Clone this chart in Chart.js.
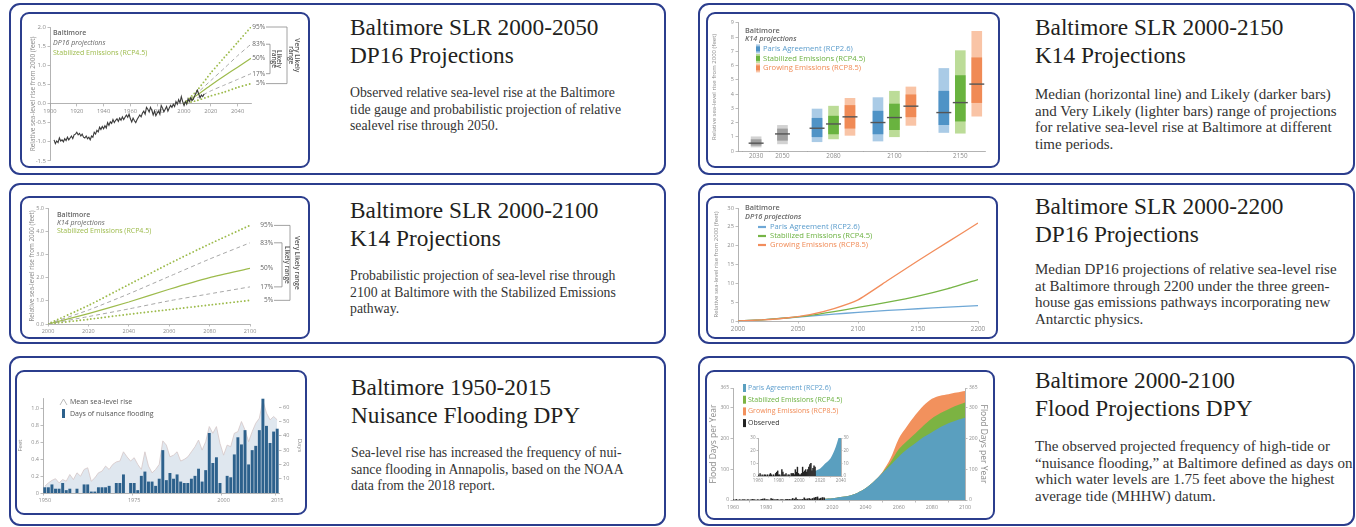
<!DOCTYPE html>
<html>
<head>
<meta charset="utf-8">
<title>Baltimore sea-level rise</title>
<script src="https://cdn.jsdelivr.net/npm/chart.js@4.4.1/dist/chart.umd.min.js"></script>
<style>
  body { margin: 0; width: 1356px; height: 527px; overflow: hidden; background: #fff; position: relative; }
  .card, .thumb { position: absolute; box-sizing: border-box; border: 2px solid #2b3d8d; }
  .card { border-radius: 11px; }
  .thumb { border-radius: 9px; overflow: hidden; background: #fff; }
  .thumb canvas { display: block; }
  .title, .body { position: absolute; font-family: "Liberation Serif", "Times New Roman", serif; white-space: nowrap; }
  .title { font-size: 23.3px; line-height: 28px; color: #231f20; }
  .body { font-size: 13.75px; line-height: 16.7px; color: #333; }
  .body.wide { font-size: 15px; }
  #floodInset { position: absolute; left: 39px; top: 60px; background: #fff; }
</style>
</head>
<body>

<!-- left column -->
<div class="card" style="left:9px;top:3px;width:657px;height:172px"></div>
<div class="thumb" style="left:20px;top:12px;width:290px;height:156px"><canvas id="dp16Chart" width="286" height="152"></canvas></div>
<div class="title" style="left:350px;top:13px">Baltimore SLR 2000-2050<br>DP16 Projections</div>
<div class="body" style="left:350px;top:85px">Observed relative sea-level rise at the Baltimore<br>tide gauge and probabilistic projection of relative<br>sealevel rise through 2050.</div>

<div class="card" style="left:9px;top:183px;width:657px;height:161px"></div>
<div class="thumb" style="left:20px;top:196px;width:290px;height:143px"><canvas id="k14Chart" width="286" height="139"></canvas></div>
<div class="title" style="left:350px;top:196px">Baltimore SLR 2000-2100<br>K14 Projections</div>
<div class="body" style="left:350px;top:268px">Probabilistic projection of sea-level rise through<br>2100 at Baltimore with the Stabilized Emissions<br>pathway.</div>

<div class="card" style="left:9px;top:356px;width:657px;height:170px"></div>
<div class="thumb" style="left:15px;top:370px;width:292px;height:145px"><canvas id="nuisanceChart" width="288" height="141"></canvas></div>
<div class="title" style="left:351px;top:373px">Baltimore 1950-2015<br>Nuisance Flooding DPY</div>
<div class="body" style="left:351px;top:445px">Sea-level rise has increased the frequency of nui-<br>sance flooding in Annapolis, based on the NOAA<br>data from the 2018 report.</div>

<!-- right column -->
<div class="card" style="left:698px;top:3px;width:657px;height:172px"></div>
<div class="thumb" style="left:706px;top:12px;width:294px;height:156px"><canvas id="k14BarChart" width="290" height="152"></canvas></div>
<div class="title" style="left:1035px;top:13px">Baltimore SLR 2000-2150<br>K14 Projections</div>
<div class="body wide" style="left:1035px;top:86px">Median (horizontal line) and Likely (darker bars)<br>and Very Likely (lighter bars) range of projections<br>for relative sea-level rise at Baltimore at different<br>time periods.</div>

<div class="card" style="left:698px;top:183px;width:657px;height:161px"></div>
<div class="thumb" style="left:706px;top:196px;width:292px;height:143px"><canvas id="dp16LongChart" width="288" height="139"></canvas></div>
<div class="title" style="left:1035px;top:192px">Baltimore SLR 2000-2200<br>DP16 Projections</div>
<div class="body wide" style="left:1035px;top:261px">Median DP16 projections of relative sea-level rise<br>at Baltimore through 2200 under the three green-<br>house gas emissions pathways incorporating new<br>Antarctic physics.</div>

<div class="card" style="left:698px;top:356px;width:657px;height:170px"></div>
<div class="thumb" style="left:705px;top:370px;width:290px;height:150px">
  <canvas id="floodChart" width="286" height="146"></canvas>
  <canvas id="floodInset" width="104" height="56"></canvas>
</div>
<div class="title" style="left:1035px;top:366px">Baltimore 2000-2100<br>Flood Projections DPY</div>
<div class="body wide" style="left:1035px;top:438px">The observed projected frequency of high-tide or<br>“nuisance flooding,” at Baltimore defined as days on<br>which water levels are 1.75 feet above the highest<br>average tide (MHHW) datum.</div>

<script>
// ---------- Data ----------

// DP16 2000-2050 (observed tide gauge + percentiles)
const observedStartYear = 1903;
const observedSLR = [
  -0.95, -1.05, -0.98, -1.02, -0.9, -0.98, -0.95,
  -1.0, -0.92, -0.97, -0.88, -0.95, -0.9, -0.85, -0.92, -0.82, -0.8,
  -0.75, -0.82, -0.78, -0.85, -0.8, -0.88, -0.9, -0.85, -0.92, -0.88,
  -0.95, -0.85, -0.88, -0.75, -0.8, -0.7, -0.74, -0.62, -0.68, -0.6,
  -0.66, -0.58, -0.64, -0.5, -0.57, -0.48, -0.52, -0.42, -0.5, -0.44,
  -0.4, -0.47, -0.38, -0.44, -0.35, -0.42, -0.36, -0.3, -0.36, -0.28,
  -0.4, -0.48, -0.38, -0.45, -0.5, -0.42, -0.36, -0.3, -0.35, -0.25,
  -0.2, -0.28, -0.1, -0.15, -0.22, -0.1, -0.18, -0.3, -0.2, -0.32,
  -0.25, -0.2, -0.28, -0.05, -0.12, -0.22, -0.15, -0.08, -0.2, -0.12,
  -0.05, -0.1, -0.02, -0.08, 0.05, -0.02, 0.1, 0.02, 0.18, 0.05,
  -0.05, 0.05, -0.02, 0.12, 0.05, 0.15, 0.08, 0.12, 0.2, 0.28,
  0.35, 0.25, 0.15, 0.22, 0.18, 0.25
];
const dp16Years = [2000, 2010, 2020, 2030, 2040, 2050];
const dp16P95 = [0, 0.35, 0.8, 1.2, 1.6, 2.0];
const dp16P83 = [0, 0.28, 0.6, 0.92, 1.25, 1.55];
const dp16P50 = [0, 0.23, 0.48, 0.72, 0.95, 1.18];
const dp16P17 = [0, 0.15, 0.33, 0.48, 0.63, 0.78];
const dp16P5 = [0, 0.08, 0.2, 0.3, 0.42, 0.52];
const dp16XTicks = [1900, 1920, 1940, 1960, 1980, 2000, 2020, 2040];
const dp16YTicks = [-1.5, -1.0, -0.5, 0, 0.5, 1.0, 1.5, 2.0];
const pctLabels = ['95%', '83%', '50%', '17%', '5%'];

// K14 2000-2100 (Stabilized Emissions)
const k14Years = [2000, 2020, 2040, 2060, 2080, 2100];
const k14P95 = [0, 0.8, 1.7, 2.6, 3.45, 4.25];
const k14P83 = [0, 0.6, 1.3, 2.05, 2.8, 3.5];
const k14P50 = [0, 0.45, 0.95, 1.5, 2.0, 2.4];
const k14P17 = [0, 0.32, 0.65, 1.0, 1.3, 1.6];
const k14P5 = [0, 0.2, 0.42, 0.62, 0.82, 1.02];
const k14XTicks = [2000, 2020, 2040, 2060, 2080, 2100];
const k14YTicks = [0, 1, 2, 3, 4, 5];

// Nuisance flooding 1950-2015
const nuisanceStartYear = 1950;
const nuisanceDays = [
  4, 4, 6, 3, 3, 7, 2, 3, 0, 3,
  0, 6, 6, 1, 1, 4, 4, 4, 5, 0,
  7, 7, 13, 0, 7, 7, 2, 12, 15, 8,
  8, 5, 10, 30, 9, 14, 10, 13, 8, 7,
  7, 10, 12, 17, 8, 16, 42, 21, 25, 7,
  0, 12, 11, 27, 39, 34, 44, 20, 30, 33,
  44, 66, 47, 35, 43, 45
];
const meanSeaLevel = [
  0.08, 0.12, 0.15, 0.17, 0.12, 0.16, 0.14, 0.22, 0.16, 0.24,
  0.2, 0.28, 0.3, 0.14, 0.18, 0.24, 0.26, 0.32, 0.28, 0.34,
  0.37, 0.38, 0.49, 0.43, 0.38, 0.42, 0.34, 0.28, 0.49, 0.32,
  0.24, 0.28, 0.34, 0.62, 0.57, 0.43, 0.45, 0.49, 0.38, 0.4,
  0.43, 0.49, 0.55, 0.63, 0.51, 0.61, 0.79, 0.71, 0.79, 0.59,
  0.45, 0.57, 0.55, 0.71, 0.73, 0.85, 0.75, 0.61, 0.73, 0.83,
  0.89, 1.1, 0.95, 0.87, 0.91, 0.87
];
const nuisanceTickYears = [1950, 1975, 2000, 2015];
const feetTicks = [0, 0.2, 0.4, 0.6, 0.8, 1.0];
const dayTicks = [10, 20, 30, 40, 50, 60];

// K14 ranges by period
const k14Periods = ['2030', '2050', '2080', '2100', '2150'];
const nearMedian = [0.55, 1.2];                 // 2030, 2050 (all scenarios)
const nearLikely = [[0.4, 0.8], [0.75, 1.55]];
const nearVeryLikely = [[0.28, 1.0], [0.5, 1.8]];
const parisMedian = [1.6, 2.0, 2.7];             // 2080, 2100, 2150
const parisLikely = [[1.0, 2.3], [1.2, 2.8], [1.85, 4.2]];
const parisVeryLikely = [[0.65, 2.95], [0.7, 3.75], [1.3, 5.8]];
const stabilizedMedian = [1.9, 2.35, 3.4];
const stabilizedLikely = [[1.2, 2.45], [1.5, 3.3], [2.1, 5.3]];
const stabilizedVeryLikely = [[0.85, 3.15], [1.0, 4.2], [1.25, 7.05]];
const growingMedian = [2.4, 3.15, 4.7];
const growingLikely = [[1.6, 3.2], [2.4, 3.95], [3.4, 6.55]];
const growingVeryLikely = [[1.1, 3.7], [1.8, 4.5], [2.45, 8.4]];
const k14BarYTicks = [0, 1, 2, 3, 4, 5, 6, 7, 8, 9];

// DP16 2000-2200 medians
const dp16LongYears = [2000, 2020, 2040, 2060, 2080, 2100, 2125, 2150, 2175, 2200];
const dp16Paris = [0, 0.3, 0.8, 1.3, 1.8, 2.3, 2.8, 3.25, 3.7, 4.1];
const dp16Stabilized = [0, 0.3, 0.8, 1.5, 2.5, 3.6, 5.0, 6.6, 8.6, 11.0];
const dp16Growing = [0, 0.3, 0.8, 1.7, 3.3, 5.6, 10.8, 16.0, 21.0, 26.0];
const dp16LongXTicks = [2000, 2050, 2100, 2150, 2200];
const dp16LongYTicks = [0, 5, 10, 15, 20, 25, 30];

// Flood days per year
const floodYears = [2015, 2020, 2025, 2030, 2035, 2040, 2045, 2050, 2055, 2060, 2065, 2070, 2075, 2080, 2085, 2090, 2095, 2100];
const floodParis = [4, 6, 10, 14, 23, 38, 60, 87, 113, 141, 165, 185, 205, 221, 237, 250, 260, 268];
const floodStabilized = [4, 6, 10, 14, 23, 38, 60, 88, 122, 165, 192, 217, 243, 266, 283, 296, 308, 318];
const floodGrowing = [4, 6, 10, 14, 23, 38, 60, 90, 135, 200, 240, 277, 308, 330, 340, 345, 350, 355];
const observedFloodStart = 1960;
const observedFloodDays = [
  1, 0, 2, 0, 1, 0, 1, 1, 0, 1,
  0, 1, 2, 1, 0, 1, 0, 2, 3, 4,
  1, 1, 0, 5, 3, 1, 1, 2, 0, 1,
  1, 0, 2, 2, 2, 1, 5, 3, 7, 2,
  1, 1, 2, 7, 3, 4, 5, 3, 5, 7,
  9, 10, 4, 6, 8, 7
];
const floodXTicks = [1960, 1980, 2000, 2020, 2040, 2060, 2080, 2100];
const floodYTicks = [0, 100, 200, 300, 365];
const insetXTicks = [1960, 1980, 2000, 2020, 2040];
const insetYTicks = [0, 10, 20, 30];

// ---------- Styles / helpers ----------
Chart.defaults.font.family = '"Open Sans", sans-serif';
Chart.defaults.color = '#8c8c8c';
Chart.defaults.animation = false;
Chart.defaults.responsive = false;
Chart.defaults.plugins.legend.display = false;
Chart.defaults.plugins.tooltip.enabled = false;
Chart.defaults.elements.point.radius = 0;

const GREEN = '#9dbb4c';
const GREY_TXT = '#666';
const PARIS = '#5a9ccc', STAB = '#6bb140', GROW = '#f08a55';

const xy = (xs, ys) => xs.map((x, i) => ({ x, y: ys[i] }));
const series = (start, ys) => ys.map((y, i) => ({ x: start + i, y }));
const fixedTicks = values => s => { s.ticks = values.map(v => ({ value: v })); };
const yTitle = (text, size, pad) => ({ display: true, text, font: { size }, color: '#8a8a8a', padding: { top: pad, bottom: 0 } });

function axis(extra) {
  const base = {
    grid: { drawOnChartArea: false, tickLength: 2.5, color: '#a0a0a0', lineWidth: 0.7 },
    border: { color: '#a0a0a0', width: 0.8 },
    ticks: { font: { size: 6 }, color: '#8c8c8c', padding: 1.5, maxRotation: 0, autoSkip: false }
  };
  for (const k in extra) {
    const v = extra[k];
    base[k] = (v && typeof v === 'object' && !Array.isArray(v) && base[k]) ? { ...base[k], ...v } : v;
  }
  return base;
}

function txt(ctx, s, x, y, o = {}) {
  ctx.save();
  ctx.font = `${o.style || 'normal'} ${o.weight || 400} ${o.size || 7}px "Open Sans", sans-serif`;
  ctx.fillStyle = o.color || GREY_TXT;
  ctx.textAlign = o.align || 'left';
  ctx.textBaseline = 'middle';
  if (o.rotate) {
    ctx.translate(x, y);
    ctx.rotate(o.rotate);
    ctx.fillText(s, 0, 0);
  } else {
    ctx.fillText(s, x, y);
  }
  ctx.restore();
}

function pctLines(years, sets) {
  const dotted = { borderColor: GREEN, borderDash: [0, 3.6], borderCapStyle: 'round', borderWidth: 1.9 };
  const dashed = { borderColor: '#a8a8a8', borderDash: [4, 3], borderWidth: 1 };
  const styles = [dotted, dashed, { borderColor: GREEN, borderWidth: 1.2 }, dashed, dotted];
  return sets.map((ys, i) => ({ data: xy(years, ys), pointRadius: 0, tension: 0.2, ...styles[i] }));
}

// percentile labels + Likely / Very Likely brackets
function rangeLabelPlugin(o) {
  return {
    id: 'rangeLabels',
    afterDatasetsDraw(chart) {
      const ctx = chart.ctx, a = chart.chartArea;
      o.legend.forEach((l, k) => txt(ctx, l.text, a.left + o.legendX, a.top + o.legendY + k * o.legendStep, l));
      const ends = [1, 2, 3, 4, 5].map(i => { const d = chart.getDatasetMeta(i).data; return d[d.length - 1]; });
      const lx = ends[0].x + o.labelGap;
      ends.forEach((p, k) => txt(ctx, pctLabels[k], lx, p.y, { align: 'right', size: o.size, color: '#666' }));
      const b1 = lx + o.b1, b2 = lx + o.b2;
      ctx.save();
      ctx.strokeStyle = '#8a8a8a';
      ctx.lineWidth = 0.8;
      ctx.beginPath();
      ctx.moveTo(lx + 1, ends[1].y); ctx.lineTo(b1, ends[1].y); ctx.lineTo(b1, ends[3].y); ctx.lineTo(lx + 1, ends[3].y);
      ctx.moveTo(lx + 1, ends[0].y); ctx.lineTo(b2, ends[0].y); ctx.lineTo(b2, ends[4].y); ctx.lineTo(lx + 1, ends[4].y);
      ctx.stroke();
      ctx.restore();
      const m1 = (ends[1].y + ends[3].y) / 2, m2 = (ends[0].y + ends[4].y) / 2;
      const rot = { rotate: Math.PI / 2, align: 'center', size: o.size, weight: 600, color: '#555' };
      o.likely.forEach((s, k) => txt(ctx, s, lx + o.t1[k], m1, rot));
      o.veryLikely.forEach((s, k) => txt(ctx, s, lx + o.t2[k], m2, rot));
    }
  };
}

// ---------- DP16 2000-2050 Chart Start ----------
new Chart(document.getElementById('dp16Chart'), {
  type: 'line',
  data: {
    datasets: [
      { data: series(observedStartYear, observedSLR), borderColor: '#3a3a3a', borderWidth: 1.1, tension: 0 },
      ...pctLines(dp16Years, [dp16P95, dp16P83, dp16P50, dp16P17, dp16P5])
    ]
  },
  options: {
    layout: { padding: { top: 13, right: 57, bottom: 4, left: 0 } },
    scales: {
      x: axis({ type: 'linear', min: 1900, max: 2050, position: { y: 0 }, afterBuildTicks: fixedTicks(dp16XTicks),
        ticks: { callback: v => String(v), font: { size: 5.8 } } }),
      y: axis({ min: -1.5, max: 2.0, afterBuildTicks: fixedTicks(dp16YTicks), afterFit: s => { s.width = 28; },
        ticks: { callback: v => v.toFixed(1) }, title: yTitle('Relative sea-level rise from 2000 (feet)', 6.5, 7) })
    }
  },
  plugins: [rangeLabelPlugin({
    legend: [
      { text: 'Baltimore', weight: 600, color: '#666' },
      { text: 'DP16 projections', style: 'italic', color: '#666' },
      { text: 'Stabilized Emissions (RCP4.5)', color: GREEN }
    ],
    legendX: 3, legendY: 6, legendStep: 10, size: 6.5,
    labelGap: 14, b1: 5, b2: 22,
    likely: ['Likely', 'range'], t1: [13.5, 8.5],
    veryLikely: ['Very Likely', 'range'], t2: [32, 26]
  })]
});
// ---------- DP16 2000-2050 Chart End ----------

// ---------- K14 2000-2100 Chart Start ----------
new Chart(document.getElementById('k14Chart'), {
  type: 'line',
  data: {
    datasets: [
      { data: [], borderWidth: 0 },
      ...pctLines(k14Years, [k14P95, k14P83, k14P50, k14P17, k14P5])
    ]
  },
  options: {
    layout: { padding: { top: 10, right: 58, bottom: 0, left: 0 } },
    scales: {
      x: axis({ type: 'linear', min: 2000, max: 2100, afterBuildTicks: fixedTicks(k14XTicks), afterFit: s => { s.height = 13; },
        ticks: { callback: v => String(v), font: { size: 5.5 } } }),
      y: axis({ min: 0, max: 5, afterBuildTicks: fixedTicks(k14YTicks), afterFit: s => { s.width = 26; },
        ticks: { callback: v => v.toFixed(1), font: { size: 5.5 } }, title: yTitle('Relative sea-level rise from 2000 (feet)', 6.3, 6) })
    }
  },
  plugins: [rangeLabelPlugin({
    legend: [
      { text: 'Baltimore', weight: 600, color: '#666' },
      { text: 'K14 projections', style: 'italic', color: '#666' },
      { text: 'Stabilized Emissions (RCP4.5)', color: GREEN }
    ],
    legendX: 9, legendY: 7, legendStep: 8, size: 6.5,
    labelGap: 23, b1: 9, b2: 17,
    likely: ['Likely range'], t1: [14],
    veryLikely: ['Very Likely range'], t2: [24]
  })]
});
// ---------- K14 2000-2100 Chart End ----------

// ---------- Nuisance Flooding Chart Start ----------
const nuisanceYears = nuisanceDays.map((_, i) => nuisanceStartYear + i);
new Chart(document.getElementById('nuisanceChart'), {
  type: 'bar',
  data: {
    labels: nuisanceYears.map(String),
    datasets: [
      { type: 'bar', label: 'Days of nuisance flooding', data: nuisanceDays, yAxisID: 'yDays',
        backgroundColor: '#2d618c', barPercentage: 0.82, categoryPercentage: 1, order: 1 },
      { type: 'line', label: 'Mean sea-level rise', data: meanSeaLevel, yAxisID: 'yFeet',
        fill: 'origin', backgroundColor: '#dfe7ef', borderColor: '#d6c6c6', borderWidth: 0.8, tension: 0, order: 2 }
    ]
  },
  options: {
    layout: { padding: { top: 26, right: 0, bottom: 0, left: 0 } },
    scales: {
      x: axis({ type: 'category', offset: true, afterFit: s => { s.height = 20; },
        grid: { tickColor: c => nuisanceTickYears.includes(nuisanceYears[c.index]) ? '#a0a0a0' : 'rgba(0,0,0,0)' },
        ticks: { font: { size: 5.5 }, callback: (v, i) => nuisanceTickYears.includes(nuisanceYears[i]) ? String(nuisanceYears[i]) : '' } }),
      yFeet: axis({ position: 'left', min: 0, max: 1.13, afterBuildTicks: fixedTicks(feetTicks), afterFit: s => { s.width = 26; },
        ticks: { font: { size: 5.5 }, callback: v => v === 0 ? '0' : v.toFixed(1) }, title: yTitle('Feet', 6, 0) }),
      yDays: axis({ position: 'right', min: 0, max: 66.5, afterBuildTicks: fixedTicks(dayTicks), afterFit: s => { s.width = 26; },
        border: { display: false }, ticks: { font: { size: 5.5 } }, title: yTitle('Days', 6, 2) })
    }
  },
  plugins: [{
    id: 'nuisanceLegend',
    afterDatasetsDraw(chart) {
      const ctx = chart.ctx, a = chart.chartArea;
      const x = a.left + 17, y = a.top + 4;
      ctx.save();
      ctx.strokeStyle = '#a8a8a8'; ctx.lineWidth = 0.8;
      ctx.beginPath(); ctx.moveTo(x, y + 3); ctx.lineTo(x + 3.5, y - 3); ctx.lineTo(x + 7, y + 3); ctx.stroke();
      ctx.fillStyle = '#2d618c';
      ctx.fillRect(x + 2, a.top + 11, 3, 9);
      ctx.restore();
      txt(ctx, 'Mean sea-level rise', a.left + 27, y, { size: 7, color: '#555' });
      txt(ctx, 'Days of nuisance flooding', a.left + 27, a.top + 16, { size: 7, color: '#555' });
    }
  }]
});
// ---------- Nuisance Flooding Chart End ----------

// ---------- K14 2000-2150 Bar Chart Start ----------
// group centres along the (hidden) x axis and spacing between scenario bars
const k14Slots = [1.1, 2.7, 5.8, 9.5, 13.5];
const k14Spread = 1.0;
const k14Sets = [];
function k14Group(slots, veryLikely, likely, median, light, dark) {
  const bar = { type: 'bar', barThickness: 10, grouped: false };
  k14Sets.push({ ...bar, data: slots.map((x, i) => ({ x, y: veryLikely[i] })), backgroundColor: light, order: 3 });
  k14Sets.push({ ...bar, data: slots.map((x, i) => ({ x, y: likely[i] })), backgroundColor: dark, order: 2 });
  k14Sets.push({ type: 'scatter', data: slots.map((x, i) => ({ x, y: median[i] })), pointStyle: 'line',
    pointRadius: 7.5, pointBorderWidth: 1.4, pointBorderColor: '#555', order: 1 });
}
const farSlots = s => k14Slots.slice(2).map(c => c + s * k14Spread);
k14Group(k14Slots.slice(0, 2), nearVeryLikely, nearLikely, nearMedian, '#d2d2d2', '#9e9e9e');
k14Group(farSlots(-1), parisVeryLikely, parisLikely, parisMedian, '#aacbe6', '#4f93c6');
k14Group(farSlots(0), stabilizedVeryLikely, stabilizedLikely, stabilizedMedian, '#bcdc98', '#69b33f');
k14Group(farSlots(1), growingVeryLikely, growingLikely, growingMedian, '#f9c4a6', '#f08a55');

new Chart(document.getElementById('k14BarChart'), {
  type: 'bar',
  data: { datasets: k14Sets },
  options: {
    layout: { padding: { top: 8, right: 13, bottom: 0, left: 0 } },
    scales: {
      x: axis({ type: 'linear', min: 0, max: 15, offset: false, afterBuildTicks: fixedTicks(k14Slots), afterFit: s => { s.height = 15; },
        grid: { tickLength: 0 }, ticks: { font: { size: 6.3 }, callback: (v, i) => k14Periods[i] } }),
      y: axis({ min: 0, max: 9, afterBuildTicks: fixedTicks(k14BarYTicks), afterFit: s => { s.width = 30; },
        ticks: { font: { size: 5.5 } }, title: yTitle('Relative sea-level rise from 2000 (feet)', 6, 2.2) })
    }
  },
  plugins: [{
    id: 'k14Legend',
    afterDatasetsDraw(chart) {
      const ctx = chart.ctx, a = chart.chartArea;
      txt(ctx, 'Baltimore', a.left + 7, a.top + 8, { weight: 600, color: '#666', size: 7.3 });
      txt(ctx, 'K14 projections', a.left + 7, a.top + 16.5, { style: 'italic', weight: 600, color: '#666', size: 7.3 });
      [['Paris Agreement (RCP2.6)', '#aacbe6', '#4f93c6', PARIS],
       ['Stabilized Emissions (RCP4.5)', '#bcdc98', '#69b33f', STAB],
       ['Growing Emissions (RCP8.5)', '#f9c4a6', '#f08a55', GROW]].forEach(([t, light, dark, c], k) => {
        const y = a.top + 26 + k * 9.5;
        ctx.fillStyle = light; ctx.fillRect(a.left + 18, y - 4.5, 4, 9);
        ctx.fillStyle = dark; ctx.fillRect(a.left + 18, y - 2.5, 4, 5);
        txt(ctx, t, a.left + 25, y, { color: c, size: 7.6 });
      });
    }
  }]
});
// ---------- K14 2000-2150 Bar Chart End ----------

// ---------- DP16 2000-2200 Chart Start ----------
new Chart(document.getElementById('dp16LongChart'), {
  type: 'line',
  data: {
    datasets: [
      { data: xy(dp16LongYears, dp16Growing), borderColor: '#f28d5c', borderWidth: 1.3, tension: 0.15 },
      { data: xy(dp16LongYears, dp16Stabilized), borderColor: '#76b446', borderWidth: 1.3, tension: 0.15 },
      { data: xy(dp16LongYears, dp16Paris), borderColor: '#6fa8d6', borderWidth: 1.3, tension: 0.15 }
    ]
  },
  options: {
    layout: { padding: { top: 10, right: 18, bottom: 0, left: 0 } },
    scales: {
      x: axis({ type: 'linear', min: 2000, max: 2200, afterBuildTicks: fixedTicks(dp16LongXTicks), afterFit: s => { s.height = 16; },
        ticks: { callback: v => String(v), font: { size: 6.3 } } }),
      y: axis({ min: 0, max: 30, afterBuildTicks: fixedTicks(dp16LongYTicks), afterFit: s => { s.width = 30; },
        ticks: { font: { size: 5.8 } }, title: yTitle('Relative sea-level rise from 2000 (feet)', 6, 4.2) })
    }
  },
  plugins: [{
    id: 'dp16Legend',
    afterDatasetsDraw(chart) {
      const ctx = chart.ctx, a = chart.chartArea;
      txt(ctx, 'Baltimore', a.left + 7, a.top, { weight: 600, color: '#666', size: 7.3 });
      txt(ctx, 'DP16 projections', a.left + 7, a.top + 9, { style: 'italic', weight: 600, color: '#666', size: 7.3 });
      [['Paris Agreement (RCP2.6)', '#6fa8d6', PARIS],
       ['Stabilized Emissions (RCP4.5)', '#76b446', STAB],
       ['Growing Emissions (RCP8.5)', '#f28d5c', GROW]].forEach(([t, line, c], k) => {
        const y = a.top + 19 + k * 9;
        ctx.save(); ctx.strokeStyle = line; ctx.lineWidth = 2.2;
        ctx.beginPath(); ctx.moveTo(a.left + 20, y); ctx.lineTo(a.left + 28, y); ctx.stroke(); ctx.restore();
        txt(ctx, t, a.left + 32, y, { color: c, size: 7.6 });
      });
    }
  }]
});
// ---------- DP16 2000-2200 Chart End ----------

// ---------- Flood Days Chart Start ----------
const floodArea = (ys, color, order) => ({ data: xy(floodYears, ys), fill: 'origin', backgroundColor: color, borderWidth: 0, tension: 0.3, order });
const observedBars = { type: 'bar', data: series(observedFloodStart, observedFloodDays), backgroundColor: '#222', barThickness: 1, order: 0 };

new Chart(document.getElementById('floodChart'), {
  type: 'line',
  data: {
    datasets: [
      floodArea(floodGrowing, '#f2915d', 3),
      floodArea(floodStabilized, '#7cb342', 2),
      floodArea(floodParis, '#5a9fbf', 1),
      observedBars
    ]
  },
  options: {
    layout: { padding: { top: 16, right: 0, bottom: 0, left: 0 } },
    scales: {
      x: axis({ type: 'linear', min: 1960, max: 2100, offset: false, afterBuildTicks: fixedTicks(floodXTicks), afterFit: s => { s.height = 18; },
        ticks: { callback: v => String(v), font: { size: 5.3 } } }),
      y: axis({ min: 0, max: 365, afterBuildTicks: fixedTicks(floodYTicks), afterFit: s => { s.width = 26; },
        ticks: { font: { size: 5 } }, title: yTitle('Flood Days per Year', 8.5, 1.5) }),
      y2: axis({ position: 'right', min: 0, max: 365, afterBuildTicks: fixedTicks(floodYTicks), afterFit: s => { s.width = 28; },
        ticks: { font: { size: 5 } }, title: yTitle('Flood Days per Year', 8.5, 4.5) })
    }
  },
  plugins: [{
    id: 'floodLegend',
    afterDatasetsDraw(chart) {
      const ctx = chart.ctx, a = chart.chartArea;
      [['Paris Agreement (RCP2.6)', '#5a9fbf', PARIS],
       ['Stabilized Emissions (RCP4.5)', '#7cb342', STAB],
       ['Growing Emissions (RCP8.5)', '#f2915d', GROW],
       ['Observed', '#222', '#333']].forEach(([t, fill, c], k) => {
        const y = a.top + k * 11.7;
        ctx.fillStyle = fill; ctx.fillRect(a.left + 10, y - 4, 3, 8);
        txt(ctx, t, a.left + 15, y, { color: c });
      });
    }
  }]
});

new Chart(document.getElementById('floodInset'), {
  type: 'line',
  data: {
    datasets: [
      floodArea(floodParis, '#5a9fbf', 1),
      { ...observedBars, barThickness: 0.8 }
    ]
  },
  options: {
    layout: { padding: { top: 6, right: 0, bottom: 0, left: 0 } },
    scales: {
      x: axis({ type: 'linear', min: 1960, max: 2040, offset: false, afterBuildTicks: fixedTicks(insetXTicks), afterFit: s => { s.height = 12; },
        grid: { tickLength: 1.5 }, ticks: { callback: v => String(v), font: { size: 4.5 }, padding: 1 } }),
      y: axis({ min: 0, max: 30, afterBuildTicks: fixedTicks(insetYTicks), afterFit: s => { s.width = 12; },
        grid: { tickLength: 1.5 }, ticks: { font: { size: 4.5 }, padding: 1 } }),
      y2: axis({ position: 'right', min: 0, max: 30, afterBuildTicks: fixedTicks(insetYTicks), afterFit: s => { s.width = 9; },
        grid: { tickLength: 1.5 }, ticks: { font: { size: 4.5 }, padding: 1 } })
    }
  }
});
// ---------- Flood Days Chart End ----------
</script>
</body>
</html>
